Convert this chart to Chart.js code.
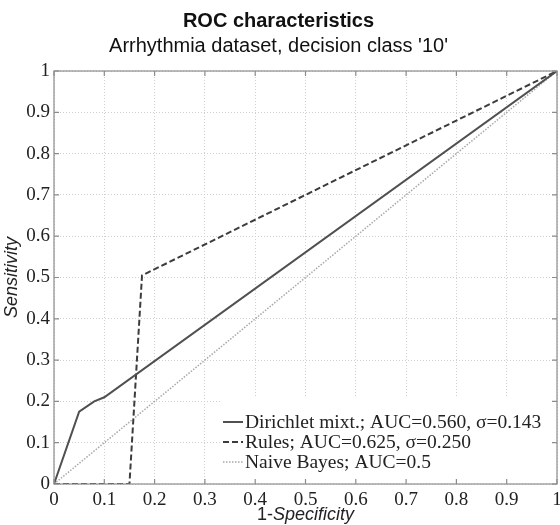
<!DOCTYPE html>
<html>
<head>
<meta charset="utf-8">
<script src="https://cdn.jsdelivr.net/npm/chart.js@4"></script>
<style>
  html, body { margin: 0; padding: 0; background: #fff; }
</style>
</head>
<body>
<canvas id="rocChart" width="560" height="525"></canvas>
<script>
// ROC - Arrhythmia, classe '10'
const dirichletX = [0, 0.05, 0.08, 0.1, 1];
const dirichletY = [0, 0.175, 0.2, 0.21, 1];
const rulesX = [0, 0.15, 0.175, 1];
const rulesY = [0, 0, 0.505, 1];
const bayesX = [0, 1];
const bayesY = [0, 1];

const seriesLabels = [
    'Dirichlet mixt.; AUC=0.560, \u03c3=0.143',
    'Rules; AUC=0.625, \u03c3=0.250',
    'Naive Bayes; AUC=0.5'
];
const tickLabels = ['0', '0.1', '0.2', '0.3', '0.4', '0.5', '0.6', '0.7', '0.8', '0.9', '1'];

const toPoints = (xs, ys) => xs.map((x, i) => ({x, y: ys[i]}));

const serif = '"Liberation Serif", "DejaVu Serif", serif';
const sans = '"Liberation Sans", Arial, sans-serif';

// cornice stile matlab con tacche verso l'interno
const framePlugin = {
    id: 'frame',
    afterDatasetsDraw(chart) {
        const {ctx, chartArea: a, scales} = chart;
        ctx.save();
        ctx.strokeStyle = '#8c8c8c';
        ctx.lineWidth = 1.2;
        ctx.strokeRect(a.left, a.top, a.right - a.left, a.bottom - a.top);
        ctx.beginPath();
        scales.x.ticks.forEach(t => {
            const px = scales.x.getPixelForValue(t.value);
            ctx.moveTo(px, a.bottom); ctx.lineTo(px, a.bottom - 5);
            ctx.moveTo(px, a.top); ctx.lineTo(px, a.top + 5);
        });
        scales.y.ticks.forEach(t => {
            const py = scales.y.getPixelForValue(t.value);
            ctx.moveTo(a.left, py); ctx.lineTo(a.left + 5, py);
            ctx.moveTo(a.right, py); ctx.lineTo(a.right - 5, py);
        });
        ctx.stroke();
        ctx.restore();
    }
};

// legenda dentro il grafico, in basso a destra
const legendPlugin = {
    id: 'insideLegend',
    beforeDatasetsDraw(chart) {
        const {ctx, chartArea: a} = chart;
        ctx.save();
        ctx.fillStyle = '#fff';
        ctx.fillRect(220, 398, a.right - 222, a.bottom - 399);
        ctx.restore();
    },
    afterDatasetsDraw(chart) {
        const {ctx} = chart;
        ctx.save();
        ctx.font = '19.5px ' + serif;
        ctx.textBaseline = 'middle';
        chart.data.datasets.forEach((ds, i) => {
            const y = 422 + i * 20;
            ctx.strokeStyle = ds.borderColor;
            ctx.lineWidth = ds.borderWidth;
            ctx.setLineDash(ds.borderDash || []);
            ctx.beginPath();
            ctx.moveTo(223, y);
            ctx.lineTo(243, y);
            ctx.stroke();
            ctx.setLineDash([]);
            ctx.fillStyle = '#222';
            ctx.fillText(ds.label, 245, y + 1);
        });
        ctx.restore();
    }
};

// titolo asse x con "Specificity" in corsivo
const xTitlePlugin = {
    id: 'xTitle',
    afterDraw(chart) {
        const {ctx, chartArea: a} = chart;
        ctx.save();
        ctx.fillStyle = '#222';
        ctx.textBaseline = 'alphabetic';
        const part1 = '1-', part2 = 'Specificity';
        ctx.font = '18px ' + sans;
        const w1 = ctx.measureText(part1).width;
        ctx.font = 'italic 18px ' + sans;
        const w2 = ctx.measureText(part2).width;
        const x0 = (a.left + a.right) / 2 - (w1 + w2) / 2;
        ctx.font = '18px ' + sans;
        ctx.fillText(part1, x0, 520);
        ctx.font = 'italic 18px ' + sans;
        ctx.fillText(part2, x0 + w1, 520);
        ctx.restore();
    }
};

new Chart(document.getElementById('rocChart'), {
    type: 'line',
    data: {
        datasets: [{
            label: seriesLabels[0],
            data: toPoints(dirichletX, dirichletY),
            borderColor: '#505050',
            borderWidth: 2,
            pointRadius: 0,
            tension: 0
        }, {
            label: seriesLabels[1],
            data: toPoints(rulesX, rulesY),
            borderColor: '#3c3c3c',
            borderWidth: 2,
            borderDash: [6, 3],
            pointRadius: 0,
            tension: 0
        }, {
            label: seriesLabels[2],
            data: toPoints(bayesX, bayesY),
            borderColor: '#a8a8a8',
            borderWidth: 1.5,
            borderDash: [1.5, 1.5],
            pointRadius: 0,
            tension: 0
        }]
    },
    options: {
        responsive: false,
        animation: false,
        layout: { padding: { right: 3 } },
        plugins: {
            legend: { display: false },
            tooltip: { enabled: false },
            title: {
                display: true,
                text: 'ROC characteristics',
                color: '#111',
                font: { family: sans, size: 20, weight: 'bold' },
                padding: { top: 9, bottom: 1 }
            },
            subtitle: {
                display: true,
                text: "Arrhythmia dataset, decision class '10'",
                color: '#111',
                font: { family: sans, size: 20 },
                padding: { top: 0, bottom: 13 }
            }
        },
        scales: {
            x: {
                type: 'linear',
                min: 0,
                max: 1,
                afterFit: s => { s.height = 41; s.paddingRight = 0; },
                ticks: {
                    stepSize: 0.1,
                    padding: 5,
                    color: '#222',
                    maxRotation: 0,
                    font: { family: serif, size: 19 },
                    callback: (v, i) => tickLabels[i]
                },
                grid: { color: '#cfcfcf', drawTicks: false },
                border: { display: false, dash: [1, 2] }
            },
            y: {
                type: 'linear',
                min: 0,
                max: 1,
                afterFit: s => { s.width = 54; },
                ticks: {
                    stepSize: 0.1,
                    padding: 4,
                    color: '#222',
                    font: { family: serif, size: 19 },
                    callback: (v, i) => tickLabels[i]
                },
                grid: { color: '#cfcfcf', drawTicks: false },
                border: { display: false, dash: [1, 2] },
                title: {
                    display: true,
                    text: 'Sensitivity',
                    color: '#222',
                    font: { family: sans, size: 18, style: 'italic' },
                    padding: { top: 1, bottom: 0 }
                }
            }
        }
    },
    plugins: [framePlugin, legendPlugin, xTitlePlugin]
});
</script>
</body>
</html>
